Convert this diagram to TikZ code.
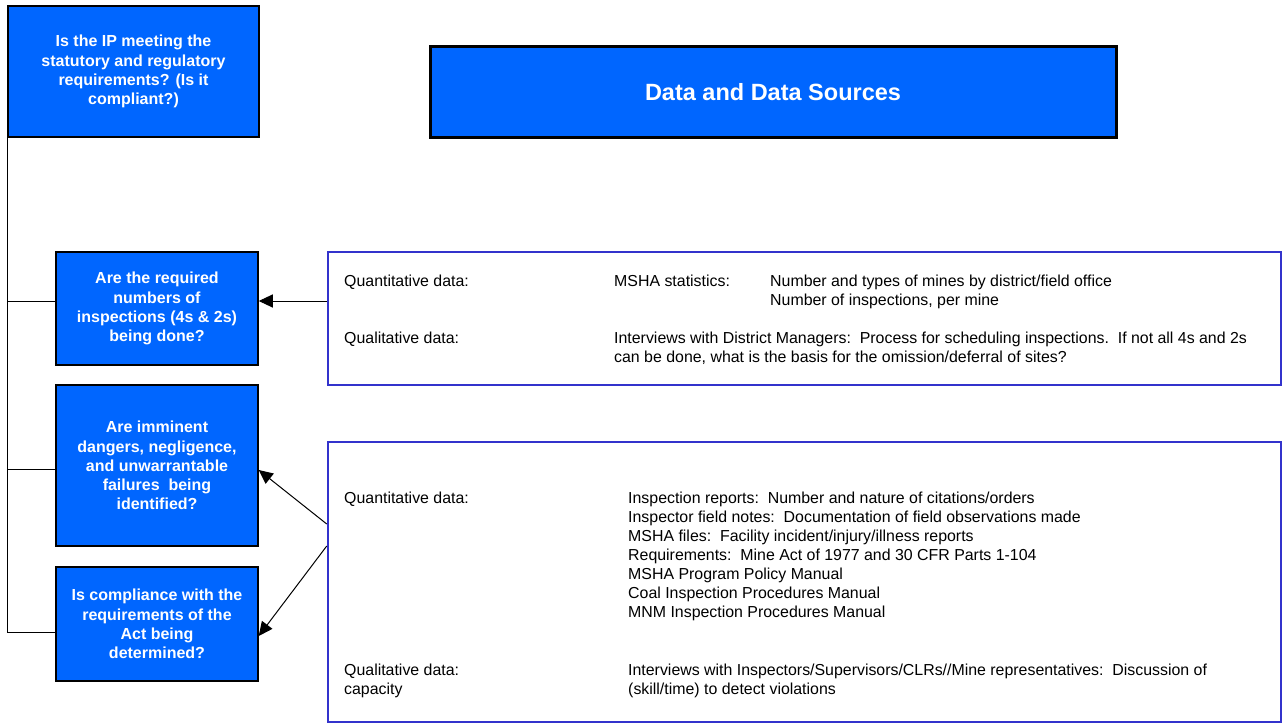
\documentclass[tikz,border=0pt]{standalone}
\usepackage{fontspec}
\setmainfont{Liberation Sans}
\usetikzlibrary{arrows.meta}
\definecolor{boxblue}{RGB}{0,102,255}
\definecolor{frameblue}{RGB}{51,51,204}
\begin{document}
\begin{tikzpicture}[x=1pt,y=-1pt,
  qbox/.style={draw=black, line width=1.5pt, fill=boxblue, text=white,
    font=\bfseries\fontsize{16}{19.2}\selectfont, align=center, inner sep=0pt},
  titlebox/.style={draw=black, line width=3pt, fill=boxblue, text=white,
    font=\bfseries\fontsize{23.5}{28}\selectfont, inner sep=0pt},
  databox/.style={draw=frameblue, line width=2.5pt, fill=white, inner sep=0pt},
  txt/.style={anchor=base west, inner sep=0pt, font=\fontsize{15.9}{19}\selectfont},
  link/.style={line width=1pt},
  arr/.style={line width=1pt, -{Triangle[length=14pt,width=13pt]}}
]
\useasboundingbox (0,0) rectangle (1286,725);

% question boxes
\node[qbox, minimum width=251pt, minimum height=131pt] (b1) at (133.5,71.5)
  {Is the IP meeting the\\statutory and regulatory\\requirements? (Is it\\compliant?)};
\node[qbox, minimum width=202pt, minimum height=113pt] (b2) at (157,308.5)
  {Are the required\\numbers of\\inspections (4s \& 2s)\\being done?};
\node[qbox, minimum width=202pt, minimum height=161pt] (b3) at (157,465.5)
  {Are imminent\\dangers, negligence,\\and unwarrantable\\failures\ \ being\\identified?};
\node[qbox, minimum width=202pt, minimum height=114pt] (b4) at (157,624)
  {Is compliance with the\\requirements of the\\Act being\\determined?};

% title
\node[titlebox, minimum width=686pt, minimum height=90pt] (title) at (773,92)
  {Data and Data Sources};

% data boxes
\node[databox, minimum width=953pt, minimum height=133pt] (dA) at (804.5,318.5) {};
\node[databox, minimum width=953pt, minimum height=280pt] (dB) at (804.5,582) {};

% texts in box A
\node[txt] (a1) at (344,286.5) {Quantitative data:};
\node[txt] (a2) at (614,286.5) {MSHA statistics:};
\node[txt] (a3) at (770,286.5) {Number and types of mines by district/field office};
\node[txt] (a4) at (770,305.5) {Number of inspections, per mine};
\node[txt] (a5) at (344,343.5) {Qualitative data:};
\node[txt] (a6) at (614,343.5) {Interviews with District Managers:\ \ Process for scheduling inspections.\ \ If not all 4s and 2s};
\node[txt] (a7) at (614,362.5) {can be done, what is the basis for the omission/deferral of sites?};

% texts in box B
\node[txt] (c1) at (344,503.5) {Quantitative data:};
\node[txt] (c2) at (628,503.5) {Inspection reports:\ \ Number and nature of citations/orders};
\node[txt] (c3) at (628,522.5) {Inspector field notes:\ \ Documentation of field observations made};
\node[txt] (c4) at (628,541.5) {MSHA files:\ \ Facility incident/injury/illness reports};
\node[txt] (c5) at (628,560.5) {Requirements:\ \ Mine Act of 1977 and 30 CFR Parts 1-104};
\node[txt] (c6) at (628,579.5) {MSHA Program Policy Manual};
\node[txt] (c7) at (628,598.5) {Coal Inspection Procedures Manual};
\node[txt] (c8) at (628,617.5) {MNM Inspection Procedures Manual};
\node[txt] (c9) at (344,675.5) {Qualitative data:};
\node[txt] (c10) at (344,694.5) {capacity};
\node[txt] (c11) at (628,675.5) {Interviews with Inspectors/Supervisors/CLRs//Mine representatives:\ \ Discussion of};
\node[txt] (c12) at (628,694.5) {(skill/time) to detect violations};

% tree on the left
\draw[link] (b1.south west) |- ([yshift=-8pt]b4.west);
\draw[link] (b1.south west |- b2.west) ++(0,-7.5) -- ([yshift=7.5pt]b2.west);
\draw[link] (b1.south west |- b3.west) ++(0,3.5) -- ([yshift=-3.5pt]b3.west);

% arrows
\draw[arr] ([yshift=17.5pt]dA.west) -- ([yshift=7.5pt]b2.east);
\draw[arr] ([yshift=58pt]dB.west) -- ([yshift=-4.5pt]b3.east);
\draw[arr] ([yshift=36pt]dB.west) -- ([yshift=-12pt]b4.east);
\end{tikzpicture}
\end{document}
